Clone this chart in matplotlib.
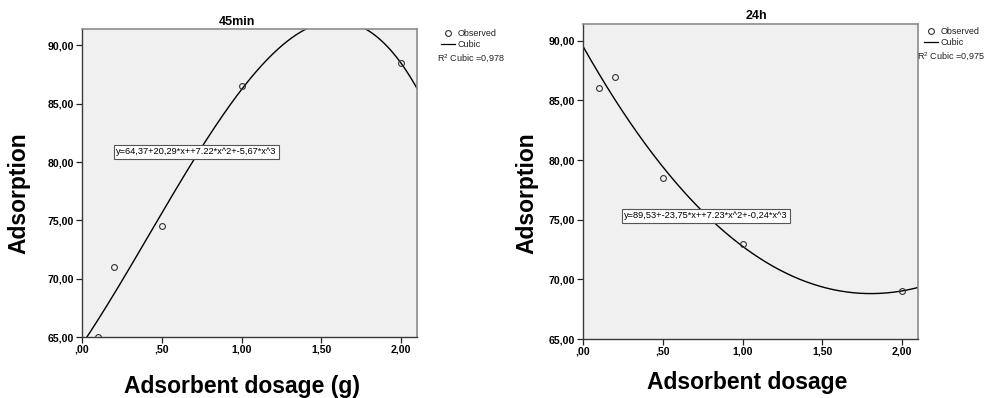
"""Cubic fits of adsorption against adsorbent dosage at 45 min and 24 h."""

import matplotlib

matplotlib.use("Agg")

import matplotlib.pyplot as plt
import numpy as np
from matplotlib.lines import Line2D

plt.rcParams["font.family"] = ["Liberation Sans", "DejaVu Sans"]
plt.rcParams["mathtext.default"] = "regular"

# observed points
dosage_45 = [0.1, 0.2, 0.5, 1.0, 2.0]
adsorption_45 = [65.0, 71.0, 74.5, 86.5, 88.5]
dosage_24 = [0.1, 0.2, 0.5, 1.0, 2.0]
adsorption_24 = [86.0, 87.0, 78.5, 73.0, 69.0]

# cubic coefficients b0..b3 as printed on each panel
coef_45 = [64.37, 20.29, 7.22, -5.67]
coef_24 = [89.53, -23.75, 7.23, -0.24]
eq_45 = "y=64,37+20,29*x++7.22*x^2+-5,67*x^3"
eq_24 = "y=89,53+-23,75*x++7.23*x^2+-0,24*x^3"
r2_45 = "0,978"
r2_24 = "0,975"

x_ticks = [0.0, 0.5, 1.0, 1.5, 2.0]
x_tick_labels = [",00", ",50", "1,00", "1,50", "2,00"]
y_ticks = [65, 70, 75, 80, 85, 90]
y_tick_labels = ["65,00", "70,00", "75,00", "80,00", "85,00", "90,00"]

W, H = 985, 398
fig = plt.figure(figsize=(W / 100, H / 100), dpi=100)


def px(x, y):
    """Pixel position (from top-left) to figure fraction."""
    return x / W, 1 - y / H


def panel(rect, xs, ys, coef, eq, eq_xy, r2, r2_xy, title, title_xy, xlabel,
          xlabel_xy, ylabel_xy, legend_xy):
    ax = fig.add_axes(rect)
    ax.set_facecolor("#f0f0f0")

    grid = np.linspace(0, 2.1, 300)
    ax.plot(grid, np.polyval(coef[::-1], grid), color="black", lw=1.0)
    ax.plot(xs, ys, linestyle="none", marker="o", ms=4.2, mfc="none",
            mec="#333333", mew=0.8)

    ax.set_xlim(0, 2.1)
    ax.set_ylim(65, 91.4)
    ax.set_xticks(x_ticks)
    ax.set_xticklabels(x_tick_labels)
    ax.set_yticks(y_ticks)
    ax.set_yticklabels(y_tick_labels)
    ax.tick_params(direction="out", length=4, width=0.9, color="#222222",
                   labelsize=7.6, pad=1.5)
    for lab in ax.get_xticklabels() + ax.get_yticklabels():
        lab.set_fontweight("bold")
    for side in ("left", "bottom"):
        ax.spines[side].set_color("#3a3a3a")
        ax.spines[side].set_linewidth(1.0)
    for side in ("top", "right"):
        ax.spines[side].set_color("#8c8c8c")
        ax.spines[side].set_linewidth(1.2)

    ax.text(*eq_xy, eq, transform=fig.transFigure, fontsize=6.7,
            va="center", ha="left",
            bbox=dict(boxstyle="square,pad=0.25", fc="white", ec="#555555",
                      lw=0.8))

    fig.text(*title_xy, title, fontsize=9, fontweight="bold",
             ha="center", va="center")
    fig.text(*xlabel_xy, xlabel, fontsize=16.5, fontweight="bold",
             ha="center", va="center")
    fig.text(*ylabel_xy, "Adsorption", fontsize=16.5, fontweight="bold",
             ha="center", va="center", rotation=90)

    handles = [
        Line2D([], [], linestyle="none", marker="o", ms=4.2, mfc="none",
               mec="#333333", mew=0.8),
        Line2D([], [], color="black", lw=0.9),
    ]
    leg = fig.legend(handles, ["Observed", "Cubic"], loc="upper left",
                     bbox_to_anchor=legend_xy, frameon=False, fontsize=6.5,
                     handlelength=1.6, handletextpad=0.2, labelspacing=0.25,
                     borderpad=0, borderaxespad=0)
    for t in leg.get_texts():
        t.set_color("#222222")
    fig.text(*r2_xy, f"R$^2$ Cubic ={r2}", fontsize=6.5, color="#222222",
             ha="left", va="center")
    return ax


panel(
    [82 / W, 61 / H, 335 / W, 308 / H],
    dosage_45, adsorption_45, coef_45, eq_45, px(116, 152), r2_45,
    px(437, 59),
    "45min", px(237, 22), "Adsorbent dosage (g)", px(242, 386),
    px(19, 193), px(441, 29),
)
panel(
    [583 / W, 59 / H, 335 / W, 315 / H],
    dosage_24, adsorption_24, coef_24, eq_24, px(624, 216), r2_24,
    px(917, 57),
    "24h", px(756, 16), "Adsorbent dosage", px(747, 383),
    px(527, 193), px(924, 27),
)

fig.savefig("out.png", dpi=100)
